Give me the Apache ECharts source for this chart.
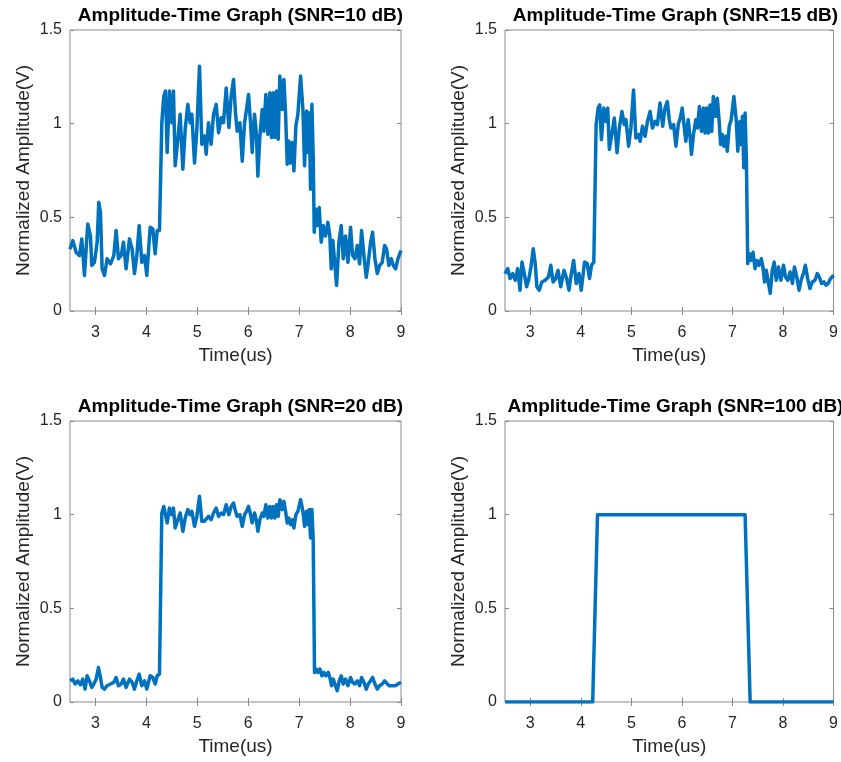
<!DOCTYPE html>
<html>
<head>
<meta charset="utf-8">
<script src="https://cdn.jsdelivr.net/npm/echarts@6/dist/echarts.min.js"></script>
<style>
  html, body { margin: 0; padding: 0; background: #ffffff; }
  #chart { width: 841px; height: 762px; }
</style>
</head>
<body>
<div id="chart"></div>
<script>
// Sample times (us) and normalized amplitudes for each noise level.
const tSnr10 = [
  2.5, 2.555, 2.62, 2.686, 2.732, 2.784, 2.849, 2.902, 2.928, 2.98,
  3.033, 3.065, 3.098, 3.131, 3.177, 3.229, 3.295, 3.36, 3.406, 3.452,
  3.504, 3.55, 3.602, 3.668, 3.72, 3.766, 3.812, 3.858, 3.91, 3.963,
  4.008, 4.074, 4.126, 4.172, 4.212, 4.257, 4.303, 4.342, 4.375, 4.408,
  4.454, 4.5, 4.532, 4.565, 4.618, 4.663, 4.716, 4.762, 4.814, 4.86,
  4.893, 4.945, 4.991, 5.043, 5.089, 5.141, 5.174, 5.22, 5.272, 5.318,
  5.371, 5.417, 5.469, 5.515, 5.567, 5.62, 5.665, 5.711,
  5.75, 5.783, 5.836, 5.882, 5.928, 5.967, 6.006, 6.045, 6.078, 6.124,
  6.163, 6.189, 6.229, 6.275, 6.307, 6.346, 6.386, 6.425, 6.458, 6.491,
  6.523, 6.556, 6.589, 6.621, 6.667, 6.7, 6.733, 6.766, 6.798, 6.831,
  6.87, 6.897, 6.936, 6.975, 7.028, 7.074, 7.106, 7.146, 7.172, 7.198,
  7.224, 7.25, 7.276, 7.296, 7.322, 7.355, 7.394, 7.433, 7.473, 7.518,
  7.564, 7.603, 7.63, 7.662, 7.695, 7.735, 7.781, 7.826, 7.866, 7.911,
  7.957, 8.01, 8.049, 8.095, 8.141, 8.187, 8.226, 8.272, 8.318, 8.357,
  8.403, 8.442, 8.488, 8.534, 8.58, 8.632, 8.678, 8.717, 8.763, 8.809,
  8.848, 8.894, 8.94, 9.0
];
const aSnr10 = [
  0.33, 0.376, 0.314, 0.296, 0.385, 0.19, 0.465, 0.40, 0.243, 0.26,
  0.367, 0.58, 0.527, 0.225, 0.19, 0.279, 0.252, 0.296, 0.43, 0.279,
  0.296, 0.367, 0.225, 0.385, 0.33, 0.20, 0.296, 0.456, 0.26, 0.296,
  0.19, 0.447, 0.438, 0.305, 0.43, 0.43, 1.005, 1.147, 1.174, 0.846,
  1.174, 1.005, 1.174, 0.775, 0.917, 1.05, 0.757, 0.97, 1.103, 1.005,
  1.05, 0.79, 0.97, 1.307, 0.89, 0.934, 0.837, 1.005, 0.89, 1.05,
  1.103, 0.952, 1.032, 1.005, 1.19, 0.98, 1.147, 1.236,
  1.058, 0.96, 1.005, 0.80, 1.005, 1.076, 1.156, 1.005, 0.846, 1.05,
  0.934, 0.72, 0.934, 1.076, 0.96, 1.156, 0.943, 1.165, 0.926, 1.165,
  0.926, 1.174, 0.917, 1.254, 1.076, 1.236, 1.058, 0.784, 0.908, 0.79,
  0.90, 0.748, 0.988, 1.05, 1.254, 1.076, 0.775, 1.067, 0.846, 1.058,
  0.65, 1.103, 0.828, 0.42, 0.544, 0.456, 0.553, 0.367, 0.456, 0.40,
  0.473, 0.40, 0.225, 0.376, 0.385, 0.137, 0.367, 0.456, 0.279, 0.40,
  0.26, 0.447, 0.296, 0.279, 0.35, 0.252, 0.43, 0.296, 0.18, 0.26,
  0.367, 0.42, 0.279, 0.20, 0.243, 0.26, 0.35, 0.33, 0.243, 0.279,
  0.243, 0.225, 0.279, 0.323
];

// The 15 dB and 20 dB records were sampled on the same time grid.
const tSnr15 = [
  2.5, 2.555, 2.601, 2.653, 2.705, 2.751, 2.797, 2.836, 2.882, 2.928,
  2.967, 3.013, 3.059, 3.098, 3.131, 3.177, 3.229, 3.295, 3.36, 3.406,
  3.452, 3.504, 3.55, 3.602, 3.668, 3.72, 3.766, 3.812, 3.858, 3.91,
  3.963, 4.008, 4.074, 4.126, 4.172, 4.212, 4.257, 4.303, 4.342, 4.375,
  4.408, 4.454, 4.5, 4.532, 4.565, 4.618, 4.663, 4.716, 4.762, 4.814,
  4.86, 4.893, 4.945, 4.991, 5.043, 5.089, 5.141, 5.174, 5.22, 5.272,
  5.318, 5.371, 5.417, 5.469, 5.515, 5.567, 5.62, 5.665, 5.711,
  5.75, 5.783, 5.836, 5.882, 5.928, 5.967, 6.006, 6.045, 6.078, 6.124,
  6.163, 6.189, 6.229, 6.275, 6.307, 6.346, 6.386, 6.425, 6.458, 6.491,
  6.523, 6.556, 6.589, 6.621, 6.667, 6.7, 6.733, 6.766, 6.798, 6.831,
  6.87, 6.897, 6.936, 6.975, 7.028, 7.074, 7.106, 7.146, 7.172, 7.198,
  7.224, 7.25, 7.276, 7.302, 7.335, 7.368, 7.407, 7.446, 7.486, 7.525,
  7.571, 7.603, 7.636, 7.669, 7.702, 7.748, 7.787, 7.826, 7.866, 7.911,
  7.957, 8.01, 8.049, 8.095, 8.141, 8.187, 8.226, 8.272, 8.318, 8.357,
  8.403, 8.442, 8.488, 8.534, 8.58, 8.632, 8.678, 8.717, 8.763, 8.809,
  8.848, 8.894, 8.94, 9.0
];
const aSnr15 = [
  0.20, 0.226, 0.173, 0.20, 0.164, 0.226, 0.111, 0.261, 0.20, 0.129,
  0.164, 0.235, 0.332, 0.253, 0.129, 0.111, 0.155, 0.164, 0.182, 0.244,
  0.155, 0.173, 0.217, 0.129, 0.217, 0.173, 0.111, 0.20, 0.27, 0.147,
  0.20, 0.111, 0.261, 0.253, 0.173, 0.244, 0.261, 0.995, 1.083, 1.10,
  0.915, 1.083, 1.012, 1.083, 0.862, 0.95, 1.03, 0.845, 0.977, 1.065,
  0.995, 1.021, 0.88, 0.977, 1.18, 0.924, 0.942, 0.906, 0.986, 0.933,
  1.012, 1.065, 0.977, 1.012, 0.995, 1.11, 0.986, 1.083, 1.118,
  1.021, 0.977, 0.995, 0.88, 0.995, 1.03, 1.083, 0.986, 0.906, 1.021,
  0.924, 0.836, 0.942, 1.021, 0.977, 1.092, 0.959, 1.083, 0.95, 1.083,
  0.95, 1.10, 0.959, 1.145, 1.039, 1.136, 1.03, 0.889, 0.942, 0.88,
  0.933, 0.853, 0.986, 1.021, 1.145, 1.021, 0.853, 1.012, 0.889, 1.039,
  0.765, 1.057, 0.80, 0.253, 0.306, 0.27, 0.314, 0.226, 0.27, 0.244,
  0.279, 0.235, 0.155, 0.217, 0.226, 0.094, 0.217, 0.261, 0.164, 0.235,
  0.164, 0.244, 0.182, 0.164, 0.208, 0.147, 0.235, 0.182, 0.111, 0.164,
  0.20, 0.244, 0.173, 0.12, 0.155, 0.164, 0.20, 0.182, 0.147, 0.155,
  0.138, 0.147, 0.173, 0.191
];

const tSnr20 = tSnr15;
const aSnr20 = [
  0.113, 0.122, 0.096, 0.113, 0.092, 0.122, 0.069, 0.14, 0.113, 0.078,
  0.096, 0.122, 0.184, 0.131, 0.078, 0.069, 0.087, 0.096, 0.105, 0.131,
  0.087, 0.096, 0.122, 0.078, 0.122, 0.105, 0.069, 0.113, 0.149, 0.087,
  0.113, 0.069, 0.14, 0.131, 0.096, 0.14, 0.149, 1.009, 1.044, 1.053,
  0.956, 1.035, 1.0, 1.035, 0.929, 0.973, 1.009, 0.911, 0.982, 1.027,
  1.0, 1.018, 0.938, 0.991, 1.098, 0.965, 0.965, 0.956, 0.991, 0.973,
  1.009, 1.035, 0.991, 1.009, 1.0, 1.053, 1.0, 1.044, 1.062,
  1.018, 0.991, 1.0, 0.938, 1.0, 1.018, 1.044, 1.0, 0.956, 1.009,
  0.965, 0.911, 0.973, 1.009, 0.991, 1.053, 0.982, 1.044, 0.982, 1.044,
  0.982, 1.053, 0.991, 1.08, 1.027, 1.071, 1.018, 0.956, 0.982, 0.947,
  0.973, 0.929, 1.0, 1.018, 1.08, 1.018, 0.938, 1.018, 0.947, 1.027,
  0.876, 1.027, 0.867, 0.158, 0.176, 0.158, 0.176, 0.14, 0.158, 0.14,
  0.158, 0.131, 0.087, 0.122, 0.131, 0.06, 0.113, 0.14, 0.096, 0.122,
  0.087, 0.131, 0.105, 0.096, 0.113, 0.087, 0.131, 0.105, 0.069, 0.096,
  0.113, 0.131, 0.096, 0.069, 0.087, 0.096, 0.113, 0.105, 0.087, 0.087,
  0.078, 0.087, 0.096, 0.105
];

// Noise-free rectangular pulse.
const tSnr100 = [2.5, 4.235, 4.33, 7.25, 7.35, 9.0];
const aSnr100 = [0, 0, 1, 1, 0, 0];

const panelTitles = [
  'Amplitude-Time Graph (SNR=10 dB)',
  'Amplitude-Time Graph (SNR=15 dB)',
  'Amplitude-Time Graph (SNR=20 dB)',
  'Amplitude-Time Graph (SNR=100 dB)'
];
const timeTicks = [3, 4, 5, 6, 7, 8, 9];
const xLabel = 'Time(us)';
const yLabel = 'Normalized Amplitude(V)';

const records = [
  [tSnr10, aSnr10],
  [tSnr15, aSnr15],
  [tSnr20, aSnr20],
  [tSnr100, aSnr100]
];

// Layout of the 2x2 panels (pixels).
const panelBoxes = [
  { left: 70,  top: 30,  width: 331, height: 281 },
  { left: 505, top: 30,  width: 331, height: 281 },
  { left: 70,  top: 421, width: 331, height: 281 },
  { left: 505, top: 421, width: 331, height: 281 }
];

const FONT = 'Liberation Sans, Arial, Helvetica, sans-serif';
const BOX = '#8a8a8a';
const INK = '#262626';
const LINE = '#0072BD';

const grid = [], xAxis = [], yAxis = [], series = [], title = [];

panelBoxes.forEach((b, i) => {
  grid.push({ left: b.left, top: b.top, width: b.width, height: b.height,
              show: true, borderColor: BOX, borderWidth: 1, backgroundColor: '#fff' });

  title.push({
    text: panelTitles[i],
    left: b.left + b.width / 2,
    top: b.top - 29,
    textAlign: 'center',
    textStyle: { fontFamily: FONT, fontSize: 19, fontWeight: 'bold', color: '#000' }
  });

  const tickStyle = { show: true, inside: true, length: 4, lineStyle: { color: BOX, width: 1 } };

  // bottom axis with labels
  xAxis.push({
    type: 'value', gridIndex: i, min: 2.5, max: 9, position: 'bottom',
    axisLine: { show: false },
    axisTick: Object.assign({ customValues: timeTicks }, tickStyle),
    axisLabel: { customValues: timeTicks, margin: 14, fontFamily: FONT, fontSize: 16, color: INK },
    splitLine: { show: false },
    name: xLabel, nameLocation: 'middle', nameGap: 35,
    nameTextStyle: { fontFamily: FONT, fontSize: 19, color: INK }
  });
  // top mirror axis carrying only ticks
  xAxis.push({
    type: 'value', gridIndex: i, min: 2.5, max: 9, position: 'top',
    axisLine: { show: false },
    axisTick: Object.assign({ customValues: timeTicks }, tickStyle),
    axisLabel: { show: false },
    splitLine: { show: false }
  });
  // left axis with labels
  yAxis.push({
    type: 'value', gridIndex: i, min: 0, max: 1.5, interval: 0.5, position: 'left',
    axisLine: { show: false },
    axisTick: tickStyle,
    axisLabel: { margin: 8, fontFamily: FONT, fontSize: 16, color: INK },
    splitLine: { show: false },
    name: yLabel, nameLocation: 'middle', nameGap: 37,
    nameTextStyle: { fontFamily: FONT, fontSize: 19, color: INK }
  });
  // right mirror axis carrying only ticks
  yAxis.push({
    type: 'value', gridIndex: i, min: 0, max: 1.5, interval: 0.5, position: 'right',
    axisLine: { show: false },
    axisTick: tickStyle,
    axisLabel: { show: false },
    splitLine: { show: false }
  });

  const [t, a] = records[i];
  series.push({
    type: 'line',
    xAxisIndex: 2 * i,
    yAxisIndex: 2 * i,
    data: t.map((x, k) => [x, a[k]]),
    showSymbol: false,
    symbol: 'none',
    lineStyle: { color: LINE, width: 3.5, join: 'round' },
    clip: true
  });
});

const chart = echarts.init(document.getElementById('chart'));
chart.setOption({
  animation: false,
  backgroundColor: '#ffffff',
  title, grid, xAxis, yAxis, series
});
</script>
</body>
</html>
